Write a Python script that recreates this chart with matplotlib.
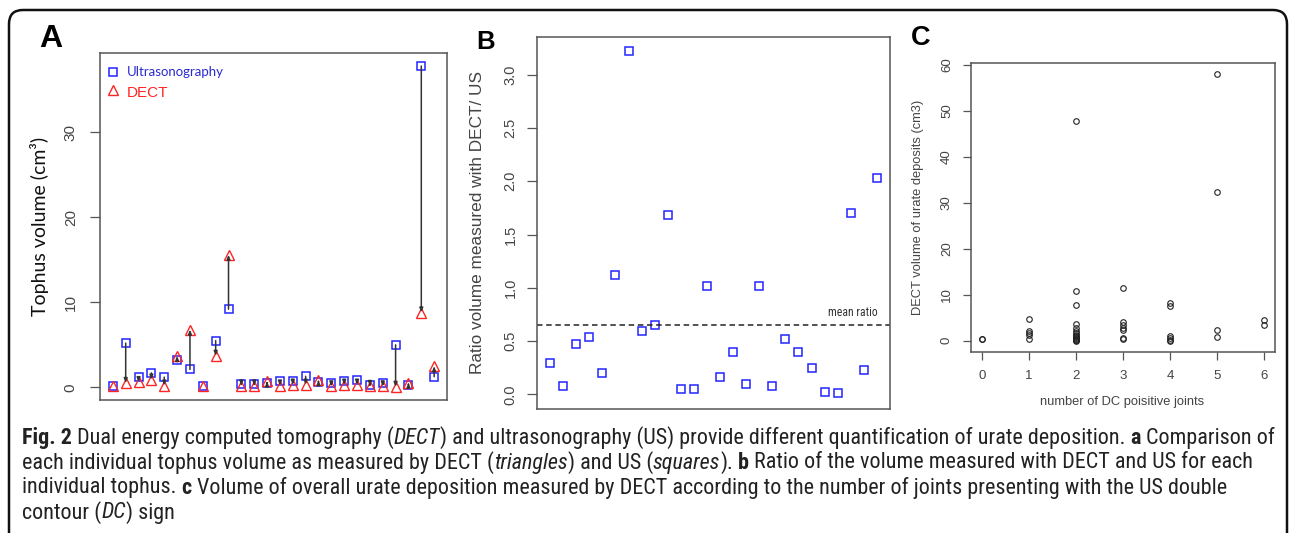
import numpy as np
import matplotlib
matplotlib.use('Agg')
import matplotlib.pyplot as plt
from matplotlib import font_manager
from matplotlib.patches import FancyBboxPatch

W, H = 1292, 533

# panel A: tophus volumes (cm3), US vs DECT
tophus = np.arange(1, 27)
us_vol = [0.2, 5.2, 1.2, 1.7, 1.2, 3.2, 2.1, 0.2, 5.5, 9.2, 0.45, 0.45, 0.5,
          0.7, 0.75, 1.3, 0.65, 0.55, 0.75, 0.85, 0.3, 0.55, 5.0, 0.3, 37.8, 1.25]
dect_vol = [0.2, 0.5, 0.6, 0.9, 0.2, 3.7, 6.8, 0.2, 3.7, 15.6, 0.2, 0.2, 0.7,
            0.2, 0.3, 0.3, 0.85, 0.1, 0.3, 0.3, 0.15, 0.1, 0.05, 0.55, 8.8, 2.5]

# panel B: ratio DECT / US
ratio = [0.30, 0.08, 0.47, 0.54, 0.20, 1.12, 3.22, 0.60, 0.65, 1.68, 0.05, 0.05, 1.02,
         0.16, 0.40, 0.10, 1.02, 0.08, 0.52, 0.40, 0.25, 0.02, 0.01, 1.70, 0.23, 2.03]
mean_ratio = 0.656

# panel C: DECT volume vs number of DC positive joints
dc_joints = [0, 0,
             1, 1, 1, 1, 1,
             2, 2, 2, 2, 2, 2, 2, 2, 2, 2, 2, 2, 2, 2, 2,
             3, 3, 3, 3, 3, 3, 3,
             4, 4, 4, 4, 4, 4,
             5, 5, 5, 5,
             6, 6]
urate_vol = [0.35, 0.45,
             4.7, 2.1, 1.7, 1.2, 0.3,
             47.8, 10.8, 7.8, 3.6, 2.8, 2.2, 1.7, 1.3, 1.0, 0.8, 0.6, 0.4, 0.2, 0.1, 0.0,
             11.4, 4.0, 3.4, 2.8, 2.3, 0.5, 0.3,
             8.2, 7.5, 1.0, 0.6, 0.2, 0.0,
             57.9, 32.3, 2.3, 0.8,
             4.6, 3.4]

caption = [
    [("Fig. 2", "b"), (" Dual energy computed tomography (", "n"), ("DECT", "i"),
     (") and ultrasonography (US) provide different quantification of urate deposition. ", "n"),
     ("a", "b"), (" Comparison of", "n")],
    [("each individual tophus volume as measured by DECT (", "n"), ("triangles", "i"),
     (") and US (", "n"), ("squares", "i"), ("). ", "n"), ("b", "b"),
     (" Ratio of the volume measured with DECT and US for each", "n")],
    [("individual tophus. ", "n"), ("c", "b"),
     (" Volume of overall urate deposition measured by DECT according to the number of joints presenting with the US double", "n")],
    [("contour (", "n"), ("DC", "i"), (") sign", "n")],
]

plt.rcParams['font.family'] = ['Liberation Sans', 'DejaVu Sans']
names = {f.name for f in font_manager.fontManager.ttflist}
cap_font = next((f for f in ['Liberation Sans Narrow', 'Roboto Condensed', 'Open Sans Condensed']
                 if f in names), 'Liberation Sans')
calibri = ['Lato', 'DejaVu Sans']

blue = '#2424ff'
red = '#ff2424'
grey = '#555555'

fig = plt.figure(figsize=(W / 100, H / 100), dpi=100)


def ax_at(x0, y0, x1, y1):
    return fig.add_axes([x0 / W, 1 - y1 / H, (x1 - x0) / W, (y1 - y0) / H])


def r_style(ax, yticks, fmt, size, pad, length=7):
    for s in ax.spines.values():
        s.set_color(grey)
        s.set_linewidth(1.1)
    ax.set_yticks(yticks)
    ax.set_yticklabels([fmt.format(v) for v in yticks])
    ax.tick_params(axis='both', length=length, width=0.9, color=grey, labelcolor='#444',
                   labelsize=size, pad=pad)
    for lab in ax.get_yticklabels():
        lab.set_rotation(90)
        lab.set_va('center')


# ---- A ----
axA = ax_at(100, 53, 447, 400)
for x, u, d in zip(tophus, us_vol, dect_vol):
    axA.annotate('', xy=(x, d), xytext=(x, u),
                 arrowprops=dict(arrowstyle='-|>,head_length=0.25,head_width=0.1',
                                 color='#333333', lw=1.1, shrinkA=0, shrinkB=0))
axA.plot(tophus, us_vol, 's', ms=5.4, mfc='none', mec=blue, mew=1.1)
axA.plot(tophus, dect_vol, '^', ms=7.2, mfc='none', mec=red, mew=1.0)
axA.set_xlim(0, 27)
axA.set_ylim(-1.49, 39.33)
axA.set_xticks([])
r_style(axA, [0, 10, 20, 30], '{:d}', 11, 9)

# ---- B ----
axB = ax_at(537, 37, 890, 409)
axB.plot(tophus, ratio, 's', ms=5.4, mfc='none', mec=blue, mew=1.1)
axB.axhline(mean_ratio, color='#222222', lw=1.1, ls=(0, (3.6, 2.4)))
axB.set_xlim(0, 27)
axB.set_ylim(-0.136, 3.353)
axB.set_xticks([])
r_style(axB, [0, 0.5, 1.0, 1.5, 2.0, 2.5, 3.0], '{:.1f}', 10.5, 7)

# ---- C ----
axC = ax_at(971, 63, 1275, 352)
axC.plot(dc_joints, urate_vol, 'o', ms=4.0, mfc='none', mec='#222222', mew=0.8)
axC.set_xlim(-0.24, 6.24)
axC.set_ylim(-2.45, 60.4)
axC.set_xticks(range(7))
r_style(axC, [0, 10, 20, 30, 40, 50, 60], '{:d}', 9.5, 7, length=6)

# ---- overlay in pixel coordinates ----
bg = fig.add_axes([0, 0, 1, 1])
bg.set_xlim(0, W)
bg.set_ylim(H, 0)
bg.axis('off')
bg.set_zorder(10)
bg.add_patch(FancyBboxPatch((9, 10), 1278, 580, boxstyle='round,pad=0,rounding_size=14',
                            fill=False, lw=1.8, ec='#111111'))

bg.text(51, 39, 'A', fontsize=23, fontweight='bold', ha='center', va='center')
bg.text(486, 42, 'B', fontsize=18.5, fontweight='bold', ha='center', va='center')
bg.text(921, 38, 'C', fontsize=19.5, fontweight='bold', ha='center', va='center')

# legend of A
bg.plot(113, 72, 's', ms=5.4, mfc='none', mec=blue, mew=1.1)
bg.plot(113, 90, '^', ms=7.2, mfc='none', mec=red, mew=1.0)
bg.text(127, 72, 'Ultrasonography', color='#2a2ad0', fontsize=9.5, family=calibri,
        ha='left', va='center')
bg.text(127, 93, 'DECT', color=red, fontsize=11, ha='left', va='center')

# axis titles
bg.text(40, 226, 'Tophus volume (cm³)', rotation=90, fontsize=14, family=calibri,
        ha='center', va='center', color='#111111')
bg.text(477, 223, 'Ratio volume measured with DECT/ US', rotation=90, fontsize=12.4,
        ha='center', va='center', color='#444444')
bg.text(878, 312, 'mean ratio', fontsize=8.5, family=[cap_font, 'DejaVu Sans'],
        ha='right', va='center', color='#333333')
bg.text(918, 207, 'DECT volume of urate deposits (cm3)', rotation=90, fontsize=9.3,
        ha='center', va='center', color='#444444')
bg.text(1122, 402, 'number of DC poisitive joints', fontsize=9.3,
        ha='center', va='center', color='#444444')

# caption, drawn piece by piece so bold/italic words sit inline
renderer = fig.canvas.get_renderer()


def caption_line(x, y, parts, size):
    probe = [bg.text(0, 0, s, fontsize=size, family=cap_font) for s in ('n n', 'nn')]
    sp = probe[0].get_window_extent(renderer).width - probe[1].get_window_extent(renderer).width
    for t in probe:
        t.remove()
    texts = []
    for s, style in parts:
        if s.startswith(' '):
            x += sp
        t = bg.text(x, y, s.strip(), fontsize=size, family=cap_font, color='#222222',
                    ha='left', va='center',
                    fontweight='bold' if style == 'b' else 'normal',
                    fontstyle='italic' if style == 'i' else 'normal')
        x += t.get_window_extent(renderer).width
        if s.endswith(' '):
            x += sp
        texts.append(t)
    return x, texts


end, tmp = caption_line(22, 438, caption[0], 10)
for t in tmp:
    t.remove()
cap_size = 10 * (1268 - 22) / (end - 22)
for i, parts in enumerate(caption):
    caption_line(22, 438 + 25 * i, parts, cap_size)

fig.savefig('out.png', dpi=100)
